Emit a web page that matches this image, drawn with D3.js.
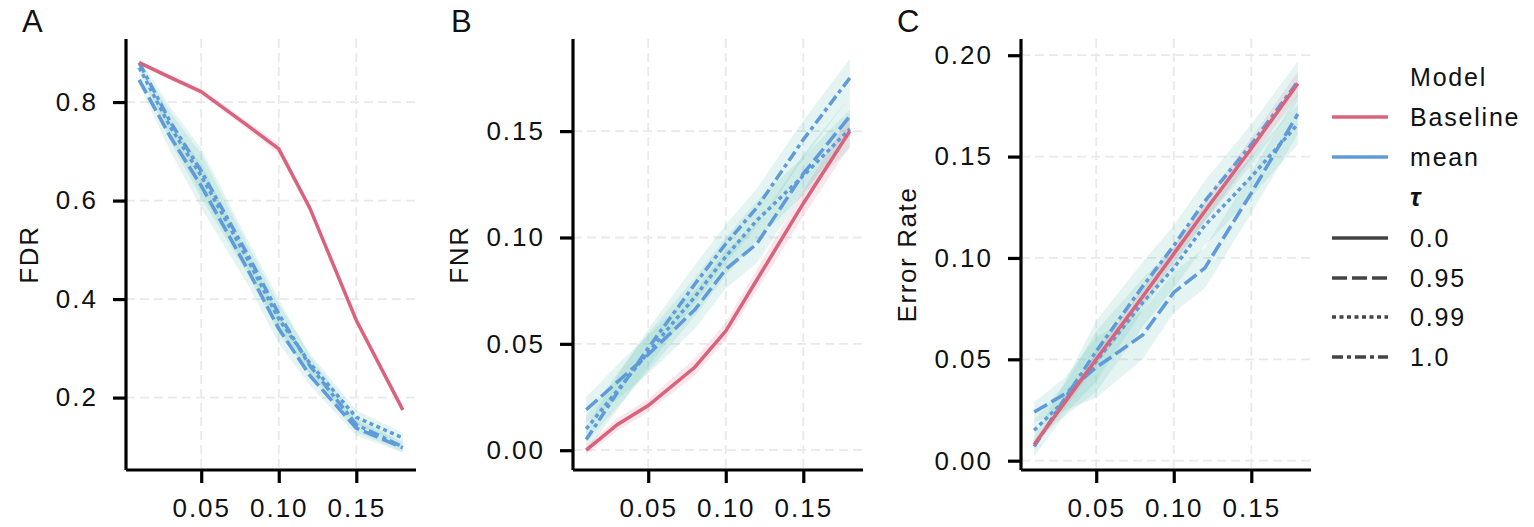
<!DOCTYPE html>
<html>
<head>
<meta charset="utf-8">
<script src="https://cdn.jsdelivr.net/npm/d3@7"></script>
<style>
  body { margin: 0; background: #fff; }
  svg text { font-family: "Liberation Sans", Arial, sans-serif; fill: #111; }
</style>
</head>
<body>
<svg width="1534" height="527"></svg>
<script>
// shared x grid (error budget)
var xVals = [0.01, 0.03, 0.05, 0.08, 0.10, 0.12, 0.15, 0.18];
var xTicks = [0.05, 0.10, 0.15];

// A: FDR
var fdrBaseline = [0.880, 0.850, 0.821, 0.752, 0.705, 0.585, 0.357, 0.175];
var fdrTau95    = [0.845, 0.730, 0.630, 0.460, 0.340, 0.245, 0.138, 0.098];
var fdrTau99    = [0.870, 0.750, 0.650, 0.480, 0.360, 0.270, 0.160, 0.118];
var fdrTau10    = [0.880, 0.760, 0.660, 0.490, 0.370, 0.265, 0.145, 0.100];
var fdrBandBase = [0.004, 0.005, 0.006, 0.008, 0.010, 0.008, 0.006, 0.006];
var fdrBandMean = [0.010, 0.030, 0.045, 0.030, 0.030, 0.020, 0.015, 0.010];

// B: FNR
var fnrBaseline = [0.000, 0.012, 0.021, 0.039, 0.056, 0.080, 0.116, 0.150];
var fnrTau95    = [0.019, 0.032, 0.045, 0.066, 0.085, 0.097, 0.130, 0.157];
var fnrTau99    = [0.010, 0.028, 0.046, 0.072, 0.091, 0.108, 0.129, 0.151];
var fnrTau10    = [0.005, 0.027, 0.048, 0.078, 0.097, 0.114, 0.146, 0.175];
var fnrBandBase = [0.002, 0.003, 0.003, 0.004, 0.004, 0.005, 0.006, 0.007];
var fnrBandMean = [0.006, 0.008, 0.009, 0.009, 0.009, 0.009, 0.009, 0.009];

// C: error rate
var errBaseline = [0.008, 0.029, 0.050, 0.081, 0.102, 0.123, 0.154, 0.186];
var errTau95    = [0.024, 0.033, 0.046, 0.062, 0.083, 0.095, 0.132, 0.171];
var errTau99    = [0.015, 0.030, 0.049, 0.078, 0.095, 0.116, 0.140, 0.166];
var errTau10    = [0.007, 0.031, 0.054, 0.086, 0.106, 0.128, 0.156, 0.187];
var errBandBase = [0.002, 0.003, 0.003, 0.004, 0.004, 0.005, 0.005, 0.006];
var errBandMean = [0.005, 0.008, 0.015, 0.012, 0.010, 0.010, 0.010, 0.010];

var fdrTicks = [0.2, 0.4, 0.6, 0.8];
var fnrTicks = [0.00, 0.05, 0.10, 0.15];
var errTicks = [0.00, 0.05, 0.10, 0.15, 0.20];

var tauLabels = ["0.0", "0.95", "0.99", "1.0"];
var modelLabels = ["Baseline", "mean"];

var pink = "#d9627c", blue = "#5f9bd9";
var pinkFill = "rgba(222,120,150,0.18)", tealFill = "rgba(120,200,188,0.2)";
var dashes = {"0.0": null, "0.95": "15,5", "0.99": "4,3.5", "1.0": "11,4,4,4"};

var svg = d3.select("svg");
var plotTop = 39, plotBottom = 470;

var panels = [
  {letter: "A", title: "FDR", left: 126, lx: 22, tx: 29, domain: [0.053, 0.928], ticks: fdrTicks, fmt: d3.format(".1f"),
   series: [fdrBaseline, fdrTau95, fdrTau99, fdrTau10], bands: [fdrBandBase, fdrBandMean]},
  {letter: "B", title: "FNR", left: 573, lx: 451, tx: 459, domain: [-0.0093, 0.1933], ticks: fnrTicks, fmt: d3.format(".2f"),
   series: [fnrBaseline, fnrTau95, fnrTau99, fnrTau10], bands: [fnrBandBase, fnrBandMean]},
  {letter: "C", title: "Error Rate", left: 1021, lx: 897, tx: 907, domain: [-0.0046, 0.2080], ticks: errTicks, fmt: d3.format(".2f"),
   series: [errBaseline, errTau95, errTau99, errTau10], bands: [errBandBase, errBandMean]}
];

panels.forEach(function(p) {
  var x = d3.scaleLinear().domain([0.0015, 0.1885]).range([p.left, p.left + 290]);
  var y = d3.scaleLinear().domain(p.domain).range([plotBottom, plotTop]);
  var g = svg.append("g");

  // grid
  g.selectAll(".vg").data(xTicks).enter().append("line")
    .attr("x1", function(d) { return x(d); }).attr("x2", function(d) { return x(d); })
    .attr("y1", plotTop).attr("y2", plotBottom)
    .attr("stroke", "#e9e9e9").attr("stroke-width", 1.8).attr("stroke-dasharray", "9,5");
  g.selectAll(".hg").data(p.ticks).enter().append("line")
    .attr("x1", p.left).attr("x2", p.left + 292)
    .attr("y1", function(d) { return y(d); }).attr("y2", function(d) { return y(d); })
    .attr("stroke", "#e9e9e9").attr("stroke-width", 1.8).attr("stroke-dasharray", "9,5");

  // ribbons
  var area = function(vals, band) {
    return d3.area()
      .x(function(d, i) { return x(xVals[i]); })
      .y0(function(d, i) { return y(vals[i] - band[i]); })
      .y1(function(d, i) { return y(vals[i] + band[i]); })(vals);
  };
  [1, 2, 3].forEach(function(k) {
    g.append("path").attr("d", area(p.series[k], p.bands[1])).attr("fill", tealFill);
  });
  g.append("path").attr("d", area(p.series[0], p.bands[0])).attr("fill", pinkFill);

  var line = d3.line()
    .x(function(d, i) { return x(xVals[i]); })
    .y(function(d) { return y(d); });
  [1, 2, 3].forEach(function(k) {
    g.append("path").attr("d", line(p.series[k]))
      .attr("fill", "none").attr("stroke", blue).attr("stroke-width", 3.5)
      .attr("stroke-dasharray", dashes[tauLabels[k]]);
  });
  g.append("path").attr("d", line(p.series[0]))
    .attr("fill", "none").attr("stroke", pink).attr("stroke-width", 3.5);

  // axes
  var ax = g.append("g").attr("transform", "translate(0," + plotBottom + ")")
    .call(d3.axisBottom(x).tickValues(xTicks).tickFormat(d3.format(".2f")).tickSize(13).tickPadding(16));
  var ay = g.append("g").attr("transform", "translate(" + p.left + ",0)")
    .call(d3.axisLeft(y).tickValues(p.ticks).tickFormat(p.fmt).tickSize(13).tickPadding(15));
  [ax, ay].forEach(function(a) {
    a.select(".domain").attr("stroke", "#000").attr("stroke-width", 3.2);
    a.selectAll(".tick line").attr("stroke", "#000").attr("stroke-width", 3.2);
    a.selectAll(".tick text").attr("font-size", 26).attr("fill", "#111")
      .style("letter-spacing", "2px").attr("font-family", "Liberation Sans, Arial, sans-serif");
  });
  ax.select(".domain").attr("d", "M" + p.left + ",0H" + (p.left + 290));
  ay.select(".domain").attr("d", "M0," + plotTop + "V" + plotBottom);

  svg.append("text").attr("x", p.lx).attr("y", 32).attr("font-size", 31).text(p.letter);
  svg.append("text").attr("transform", "translate(" + p.tx + "," + ((plotTop + plotBottom) / 2) + ") rotate(-90)")
    .attr("text-anchor", "middle").attr("dy", "0.36em").attr("font-size", 26)
    .style("letter-spacing", "1.6px").text(p.title);
});

// legend
var lg = svg.append("g");
var rowY = [77, 117, 157, 197, 238, 278, 317, 357];
lg.append("text").attr("x", 1410).attr("y", rowY[0]).attr("dy", "0.36em").attr("font-size", 25)
  .style("letter-spacing", "1.8px").text("Model");
modelLabels.forEach(function(m, i) {
  var yy = rowY[1 + i];
  lg.append("line").attr("x1", 1332).attr("x2", 1388).attr("y1", yy).attr("y2", yy)
    .attr("stroke", i === 0 ? pink : blue).attr("stroke-width", 3.5);
  lg.append("text").attr("x", 1410).attr("y", yy).attr("dy", "0.36em").attr("font-size", 25)
    .style("letter-spacing", "1.8px").text(m);
});
lg.append("text").attr("x", 1410).attr("y", rowY[3]).attr("dy", "0.36em").attr("font-size", 26)
  .attr("font-style", "italic").attr("font-weight", "bold").attr("font-family", "DejaVu Serif, serif").text("τ");
tauLabels.forEach(function(t, i) {
  var yy = rowY[4 + i];
  lg.append("line").attr("x1", 1332).attr("x2", 1388).attr("y1", yy).attr("y2", yy)
    .attr("stroke", "#444").attr("stroke-width", 3.5).attr("stroke-dasharray", dashes[t]);
  lg.append("text").attr("x", 1410).attr("y", yy).attr("dy", "0.36em").attr("font-size", 25)
    .style("letter-spacing", "1.8px").text(t);
});
</script>
</body>
</html>
